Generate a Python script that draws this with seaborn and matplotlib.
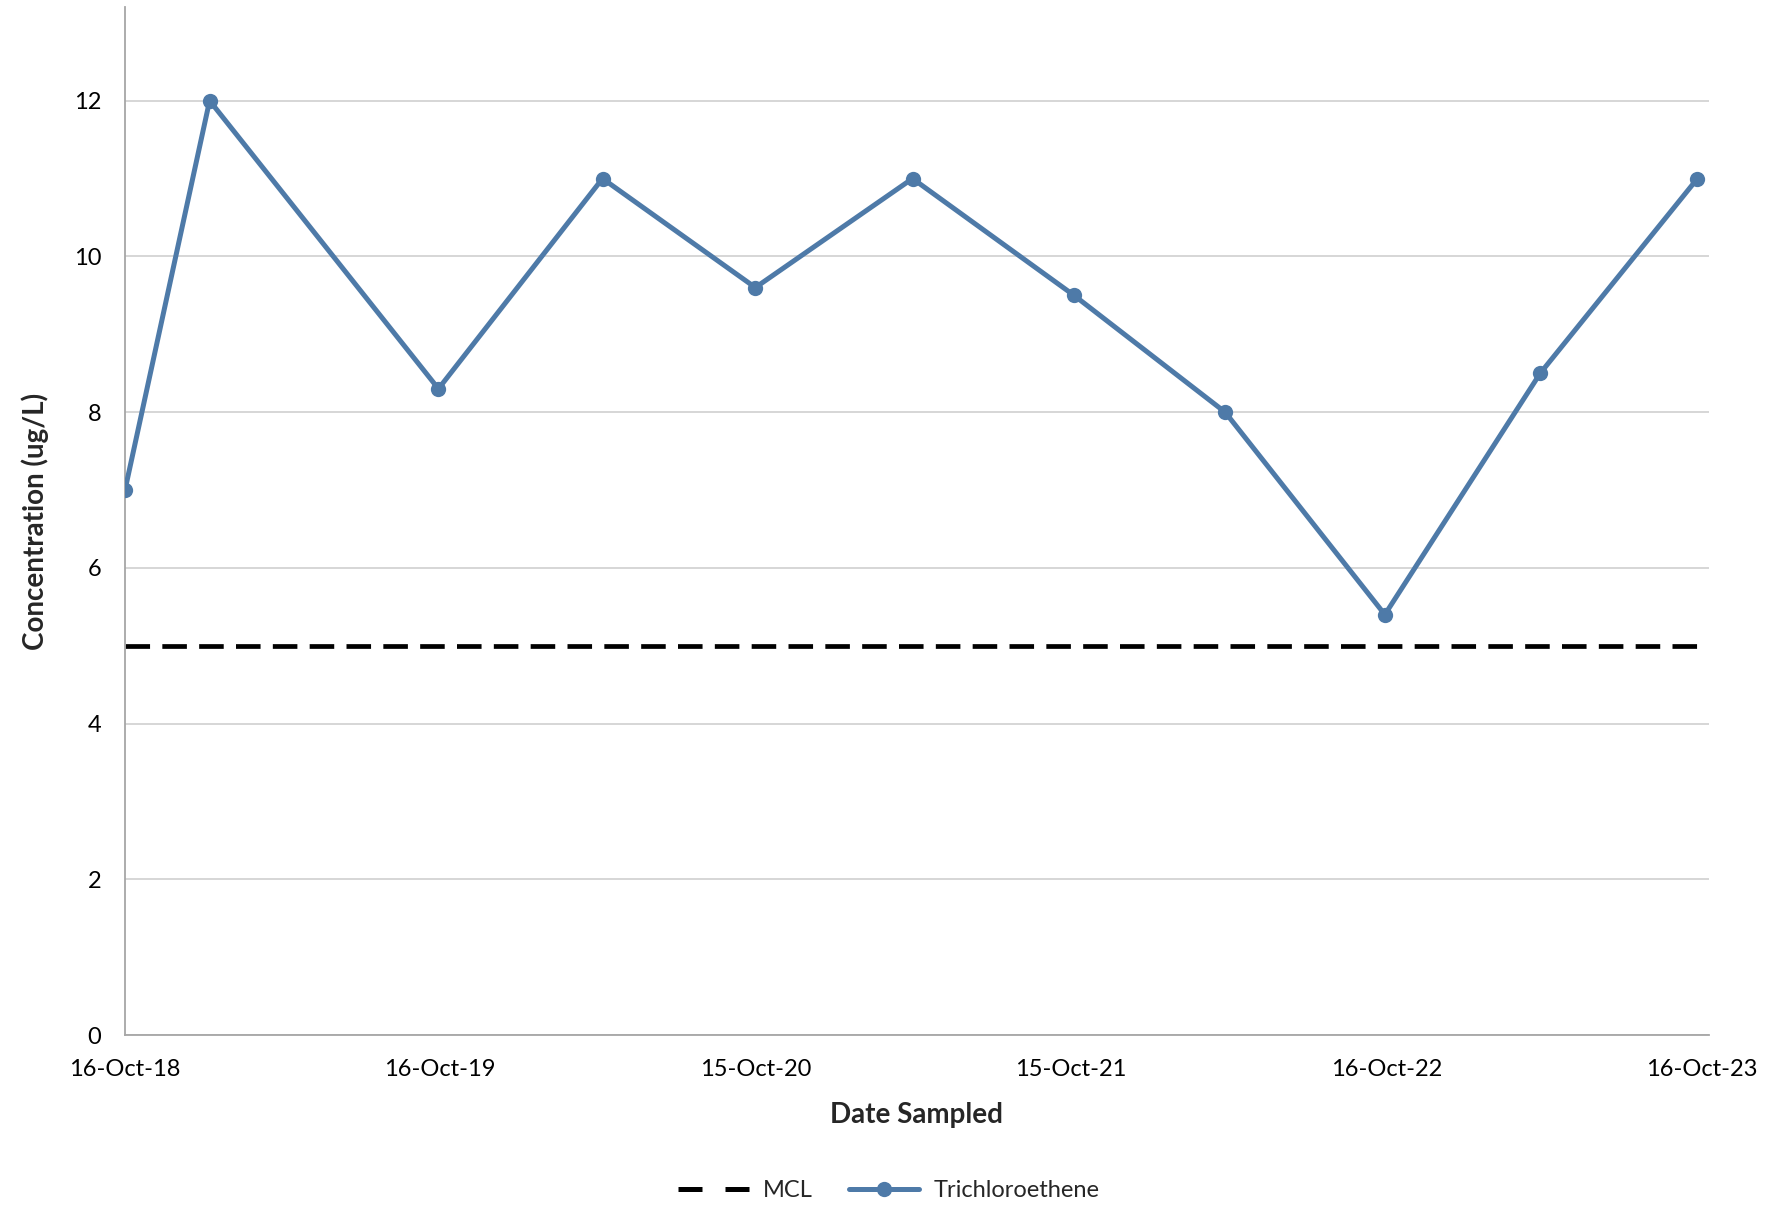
import matplotlib
matplotlib.use("Agg")
import matplotlib.pyplot as plt
import seaborn as sns
import pandas as pd
from matplotlib.lines import Line2D

# ---- data ----
sample_dates = ["2018-10-16", "2019-01-22", "2019-10-14", "2020-04-21", "2020-10-15",
                "2021-04-15", "2021-10-19", "2022-04-12", "2022-10-14", "2023-04-12",
                "2023-10-11"]
tce_values = [7, 12, 8.3, 11, 9.6, 11, 9.5, 8, 5.4, 8.5, 11]
mcl_value = 5
tick_dates = ["2018-10-16", "2019-10-16", "2020-10-15", "2021-10-15", "2022-10-16", "2023-10-16"]
tick_labels = ["16-Oct-18", "16-Oct-19", "15-Oct-20", "15-Oct-21", "16-Oct-22", "16-Oct-23"]
y_ticks = [0, 2, 4, 6, 8, 10, 12]
x_min, x_max = "2018-10-16", "2023-10-24"

df = pd.DataFrame({"Date": pd.to_datetime(sample_dates), "Concentration": tce_values})

sns.set_theme(style="white")
plt.rcParams["font.family"] = ["Lato", "DejaVu Sans"]

fig = plt.figure(figsize=(17.78, 12.05), dpi=100)
ax = fig.add_axes([0.0703, 0.141, 0.8907, 0.853])

line_color = "#4e7aa8"
ax.axhline(mcl_value, color="black", lw=3.4, dashes=(5.2, 2.6), zorder=2)
sns.lineplot(data=df, x="Date", y="Concentration", ax=ax, color=line_color,
             lw=3.6, marker="o", markersize=11, markeredgewidth=0, zorder=3)

ax.set_xlim(pd.Timestamp(x_min), pd.Timestamp(x_max))
ax.set_ylim(0, 13.2)
ax.set_yticks(y_ticks)
ax.set_yticklabels([str(v) for v in y_ticks])
ax.set_xticks(pd.to_datetime(tick_dates))
ax.set_xticklabels(tick_labels)

ax.yaxis.grid(True, color="#d0d0d0", lw=1.2)
ax.xaxis.grid(False)
for s in ["top", "right"]:
    ax.spines[s].set_visible(False)
for s in ["left", "bottom"]:
    ax.spines[s].set_color("#a6a6a6")
    ax.spines[s].set_linewidth(1.3)

ax.tick_params(axis="both", which="major", direction="out", length=7, width=1.2,
               color="#a6a6a6", labelsize=17, labelcolor="black")
ax.tick_params(axis="y", pad=10)
ax.tick_params(axis="x", pad=10)
ax.set_ylabel("Concentration (ug/L)", fontsize=20, fontweight="bold", labelpad=18)
ax.set_xlabel("Date Sampled", fontsize=20, fontweight="bold", labelpad=16)

handles = [
    Line2D([0], [0], color="black", lw=3.6, dashes=(4.8, 4.6)),
    Line2D([0], [0], color=line_color, lw=3.6, marker="o", markersize=11, markeredgewidth=0),
]
fig.legend(handles, ["MCL", "Trichloroethene"], loc="center", bbox_to_anchor=(0.5, 0.012),
           ncol=2, frameon=False, fontsize=17, handlelength=3.0, columnspacing=1.5,
           handletextpad=0.6)

fig.savefig("out.png", dpi=100)
